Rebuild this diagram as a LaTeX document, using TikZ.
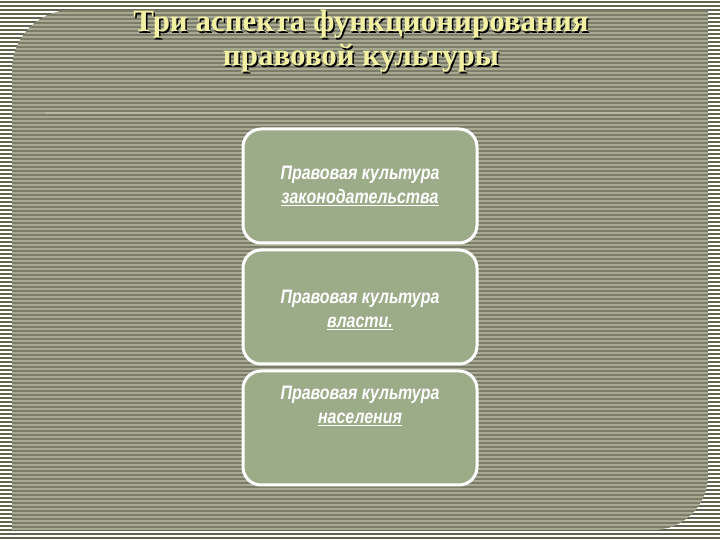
\documentclass[tikz,border=0pt]{standalone}
\usepackage{fontspec}
\setmainfont{Liberation Serif}
\newfontfamily\boxfont[FakeStretch=0.82]{Liberation Sans}
\usepackage{xcolor}
\usepackage{tikz}
\usetikzlibrary{positioning}

\definecolor{outerdark}{HTML}{62644F}
\definecolor{panellight}{HTML}{A8A993}
\definecolor{paneldark}{HTML}{7C7D69}
\definecolor{boxgreen}{HTML}{9CAB88}
\definecolor{titleyellow}{HTML}{F2F0A2}
\definecolor{ruleline}{HTML}{B9BAA4}

\begin{document}
\begin{tikzpicture}[
    x=1pt, y=1pt,
    node distance=4pt,
    box/.style={rectangle, rounded corners=18pt, draw=white, line width=3pt, fill=boxgreen, minimum width=234pt, minimum height=114pt},
    boxtext/.style={text=white, align=center, font=\boxfont\bfseries\itshape\fontsize{19.5}{24}\selectfont},
    heading/.style={align=center, font=\bfseries\fontsize{31}{34}\selectfont}
]
\useasboundingbox (0,0) rectangle (720,540);

% striped background
\fill[white] (0,0) rectangle (720,540);
\foreach \y in {1,5,...,540}
    \fill[outerdark] (0,\y) rectangle (720,\y+2);

% panel
\begin{scope}
\path[clip] (12,10) -- (653,10) arc[start angle=-90, end angle=0, radius=55] -- (708,530) -- (72,530) arc[start angle=90, end angle=180, radius=60] -- cycle;
\fill[panellight] (0,0) rectangle (720,540);
\foreach \y in {0,4,...,540}
    \fill[paneldark] (0,\y) rectangle (720,\y+2.4);
\end{scope}
\draw[ruleline, line width=2.5pt] (45,427) -- (680,427);

% title
\node[heading, text=black] (shadow) at (362.5,497) {Три аспекта функционирования\\правовой культуры};
\node[heading, text=titleyellow] (title) at (361,498.5) {Три аспекта функционирования\\правовой культуры};

% boxes
\node[box] (law) at (360,354) {};
\node[box, below=of law] (power) {};
\node[box, below=of power] (people) {};

\node[boxtext] (lawtext) at (law) {Правовая культура\\\underline{законодательства}};
\node[boxtext] (powertext) at ([yshift=-3pt]power.center) {Правовая культура\\\underline{власти.}};
\node[boxtext] (peopletext) at ([yshift=22pt]people.center) {Правовая культура\\\underline{населения}};

\end{tikzpicture}
\end{document}
